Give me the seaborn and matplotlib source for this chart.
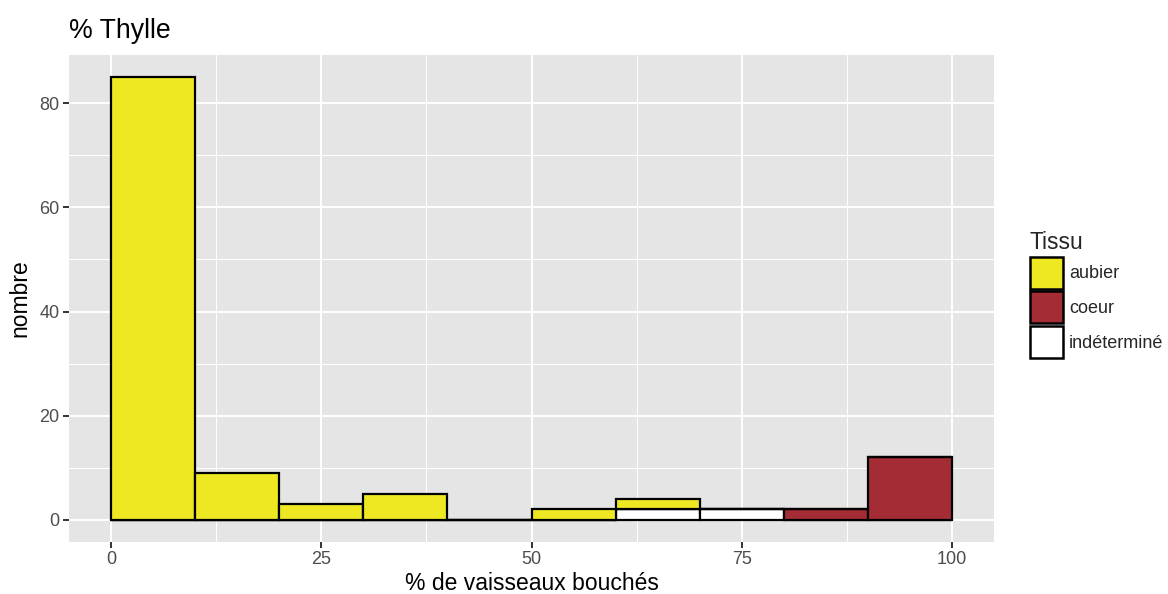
import numpy as np
import pandas as pd
import matplotlib
matplotlib.use("Agg")
import matplotlib.pyplot as plt
from matplotlib.patches import Patch
import seaborn as sns

# ---- data ----
bin_starts = [0, 10, 20, 30, 40, 50, 60, 70, 80, 90]
aubier = [85, 9, 3, 5, 0, 2, 2, 0, 0, 0]
coeur = [0, 0, 0, 0, 0, 0, 0, 0, 2, 12]
indetermine = [0, 0, 0, 0, 0, 0, 2, 2, 0, 0]
tissu_levels = ["aubier", "coeur", "indéterminé"]
tissu_colors = ["#EEE823", "#A42D35", "#FFFFFF"]
x_ticks = [0, 25, 50, 75, 100]
y_ticks = [0, 20, 40, 60, 80]

rows = []
for lvl, vals in zip(tissu_levels, [aubier, coeur, indetermine]):
    for b, v in zip(bin_starts, vals):
        rows.append({"x": b + 5.0, "n": float(v), "Tissu": lvl})
df = pd.DataFrame(rows)

sns.set_theme(style="darkgrid")
plt.rcParams["font.family"] = ["Liberation Sans", "DejaVu Sans"]

fig = plt.figure(figsize=(11.68, 5.94), dpi=100)
ax = fig.add_axes([69 / 1168, 1 - 542 / 594, (994 - 69) / 1168, (542 - 55) / 594])
ax.set_facecolor("#E5E5E5")

sns.histplot(data=df, x="x", weights="n", hue="Tissu", hue_order=tissu_levels,
             multiple="stack", binwidth=10, binrange=(0, 100),
             palette=dict(zip(tissu_levels, tissu_colors)), alpha=1,
             edgecolor="black", linewidth=1.6, legend=False, ax=ax)

ax.set_xlim(-5, 105)
ax.set_ylim(-85 * 0.05, 85 * 1.05)
ax.set_xticks(x_ticks)
ax.set_yticks(y_ticks)
ax.set_xticks([12.5, 37.5, 62.5, 87.5], minor=True)
ax.set_yticks([10, 30, 50, 70], minor=True)
ax.grid(which="major", color="white", linewidth=1.4)
ax.grid(which="minor", color="white", linewidth=0.7)
ax.set_axisbelow(True)
for s in ax.spines.values():
    s.set_visible(False)
ax.tick_params(axis="both", which="major", length=4.2, width=1.4, color="#333333",
               labelsize=13, labelcolor="#4D4D4D", pad=2.5, bottom=True, left=True)
ax.tick_params(which="minor", length=0)

ax.set_xlabel("% de vaisseaux bouchés", fontsize=16.5, color="black", labelpad=3)
ax.set_ylabel("nombre", fontsize=16.5, color="black", labelpad=6)
ax.set_title("% Thylle", fontsize=19.2, loc="left", color="black", pad=12)

handles = [Patch(facecolor=c, edgecolor="black", linewidth=1.8) for c in tissu_colors]
leg = fig.legend(handles, tissu_levels, title="Tissu", loc="upper left",
                 bbox_to_anchor=(1030 / 1168, 1 - 231 / 594), frameon=False,
                 fontsize=13, title_fontsize=16.5, handlelength=1.8,
                 handleheight=2.35, labelspacing=0.15, handletextpad=0.35,
                 borderaxespad=0, borderpad=0, alignment="left")

fig.savefig("out.png", dpi=100)
